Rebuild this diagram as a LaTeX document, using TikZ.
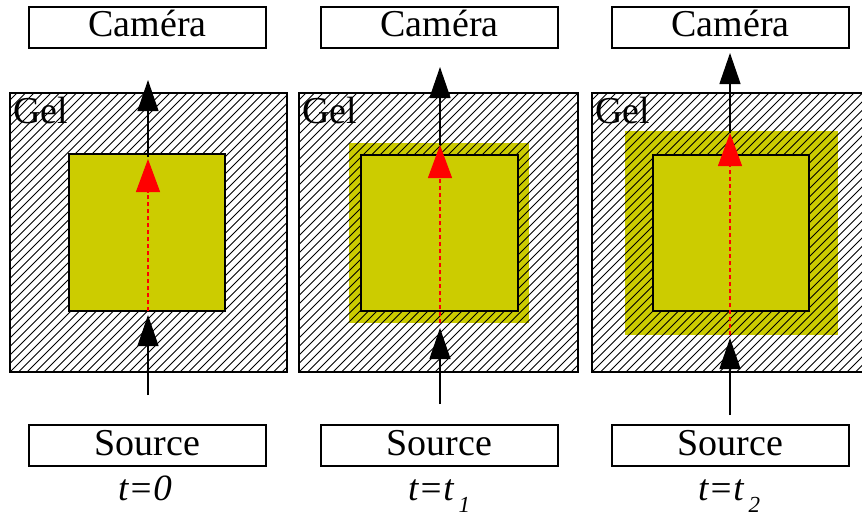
\documentclass[tikz,border=0pt]{standalone}
\usepackage{fontspec}
\setmainfont{Liberation Serif}
\usetikzlibrary{arrows.meta}
\definecolor{gelyellow}{RGB}{204,204,0}
\definecolor{rayred}{RGB}{255,0,0}
\tikzset{
  labelbox/.style={draw=black, line width=1.4pt, fill=white, minimum width=237pt, minimum height=41pt,
    inner sep=0pt, text height=22pt, text depth=3pt, font=\fontsize{38}{40}\selectfont},
  gelframe/.style={draw=black, line width=1.4pt},
  hatchline/.style={draw=black, line width=0.75pt},
  corebox/.style={draw=black, line width=1.3pt, fill=gelyellow},
  ray/.style={draw=black, line width=1.2pt, -{Triangle[length=31pt,width=21pt]}},
  redray/.style={draw=rayred, line width=1.2pt, dash pattern=on 4pt off 3pt,
    -{Triangle[length=33pt,width=24pt,fill=rayred]}},
  gellabel/.style={anchor=base west, inner sep=0pt, font=\fontsize{38}{40}\selectfont},
  timelabel/.style={anchor=base west, inner sep=0pt, font=\fontsize{37}{40}\selectfont\itshape},
}
\newcommand{\hatchgel}[4]{%
  \begin{scope}
    \clip (#1,#2) rectangle (#3,#4);
    \foreach \k in {-40,...,40} {
      \draw[hatchline] ({#1+\k*8.5},#4) -- ++(320,-320);
    }
  \end{scope}}
\newcommand{\subidx}[1]{\hspace{5pt}\raisebox{-12pt}{\fontsize{23}{23}\selectfont\itshape #1}}
\begin{document}
\begin{tikzpicture}[x=1pt,y=-1pt]
\useasboundingbox (0,0) rectangle (862,519);
\fill[white] (0,0) rectangle (862,519);

% ---------- Panel 1 ----------
\fill[white] (10,93) rectangle (287,372);
\hatchgel{10}{93}{287}{372}
\draw[corebox] (69,154) rectangle (225,311);
\draw[gelframe] (10,93) rectangle (287,372);
\node[gellabel] (gel1) at (13,123) {Gel};
\node[labelbox] (cam1) at (147.5,27.5) {Caméra};
\node[labelbox] (src1) at (147.5,445.5) {Source};
\node[timelabel] (t1) at (118,500) {t=0};
\coordinate (a1s) at (148,395);
\coordinate (a1b) at (148,315);
\coordinate (a1c) at (148,311);
\coordinate (a1r) at (148,159);
\coordinate (a1d) at (148,157);
\coordinate (a1t) at (148,80);
\draw[ray] (a1s) -- (a1b);
\draw[ray] (a1d) -- (a1t);
\draw[redray] (a1c) -- (a1r);

% ---------- Panel 2 ----------
\fill[white] (299,93) rectangle (578,372);
\fill[gelyellow] (349,143) rectangle (529,323);
\hatchgel{299}{93}{578}{372}
\draw[corebox] (361,155) rectangle (518,311);
\draw[gelframe] (299,93) rectangle (578,372);
\node[gellabel] (gel2) at (302,123) {Gel};
\node[labelbox] (cam2) at (439.5,27.5) {Caméra};
\node[labelbox] (src2) at (439.5,445.5) {Source};
\node[timelabel] (t2) at (408,500) {t=t\subidx{1}};
\coordinate (a2s) at (440,404);
\coordinate (a2b) at (440,328);
\coordinate (a2c) at (440,323);
\coordinate (a2r) at (440,145);
\coordinate (a2d) at (440,145);
\coordinate (a2t) at (440,67);
\draw[ray] (a2s) -- (a2b);
\draw[ray] (a2d) -- (a2t);
\draw[redray] (a2c) -- (a2r);

% ---------- Panel 3 ----------
\fill[white] (592,93) rectangle (871,372);
\fill[gelyellow] (625,131) rectangle (838,335);
\hatchgel{592}{93}{871}{372}
\draw[corebox] (653,155) rectangle (809,311);
\draw[gelframe] (592,93) rectangle (871,372);
\node[gellabel] (gel3) at (595,123) {Gel};
\node[labelbox] (cam3) at (730.5,27.5) {Caméra};
\node[labelbox] (src3) at (730.5,445.5) {Source};
\node[timelabel] (t3) at (698,500) {t=t\subidx{2}};
\coordinate (a3s) at (730,415);
\coordinate (a3b) at (730,338);
\coordinate (a3c) at (730,335);
\coordinate (a3r) at (730,133);
\coordinate (a3d) at (730,133);
\coordinate (a3t) at (730,53);
\draw[ray] (a3s) -- (a3b);
\draw[ray] (a3d) -- (a3t);
\draw[redray] (a3c) -- (a3r);
\end{tikzpicture}
\end{document}
